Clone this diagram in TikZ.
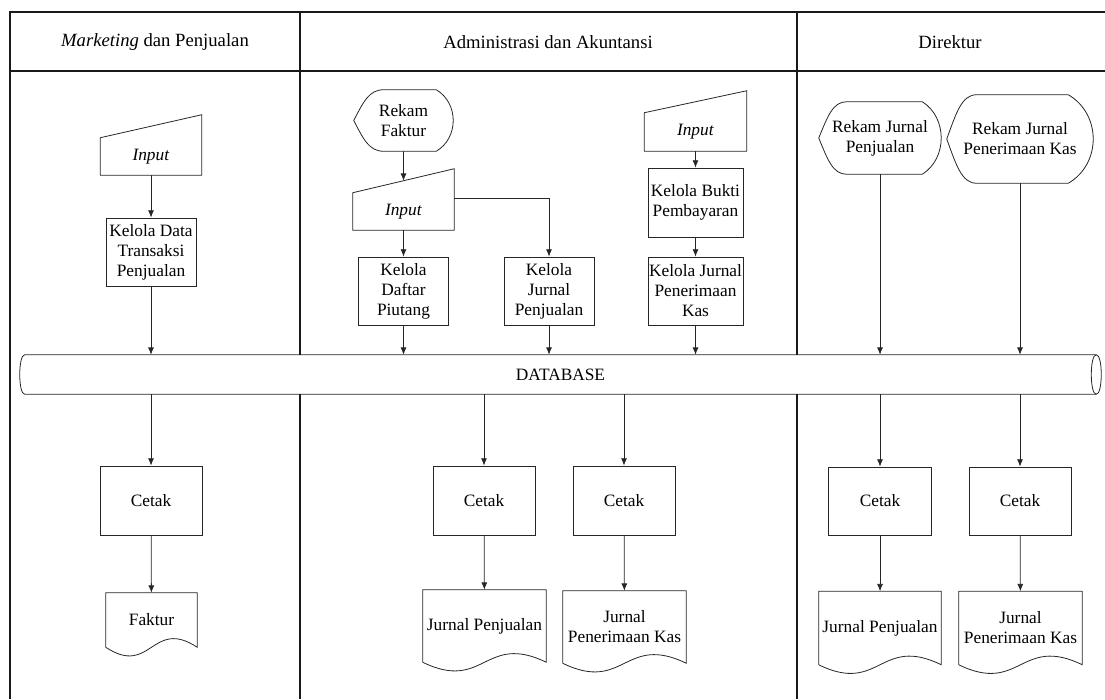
\documentclass[tikz,border=0pt]{standalone}
\usepackage{fontspec}
\setmainfont{Liberation Serif}
\usepackage{tikz}
\usetikzlibrary{arrows.meta, calc}

\tikzset{
  shape line/.style={draw=black!85, line width=0.6pt},
  txt/.style={rectangle, inner sep=0pt, align=center, font=\fontsize{13}{15}\selectfont},
  box/.style={txt, shape line},
  head/.style={inner sep=0pt, font=\fontsize{14}{16}\selectfont},
  flow/.style={draw=black!85, line width=0.6pt, -{Latex[length=5.5pt, width=4.5pt]}},
  lane/.style={draw=black!90, line width=0.9pt},
}

% manual input, #2 = rise of the top right corner (px)
\newcommand{\ManIn}[2]{%
  \coordinate (#1-ne) at ($ (#1.north east)+(0,-#2) $);
  \coordinate (#1-top) at ($ (#1.north west)!0.5!(#1-ne) $);
  \draw[shape line] (#1.south west) -- (#1.south east) -- (#1-ne) -- (#1.north west) -- cycle;
}

% display shape
\newcommand{\Disp}[4]{%
  \edef\dl{#2}% left cut, px
  \edef\dr{#3}% right bulge, px
  \edef\dh{#4}% height, px
  \draw[shape line] (#1.west) .. controls +(0.32*\dl,-0.3*\dh) and +(-0.5*\dl,0) .. ($ (#1.north west)+(\dl,0) $)
    -- ($ (#1.north east)+(-\dr,0) $) .. controls +(1.33*\dr,0.22*\dh) and +(1.33*\dr,-0.22*\dh) .. ($ (#1.south east)+(-\dr,0) $)
    -- ($ (#1.south west)+(\dl,0) $) .. controls +(-0.5*\dl,0) and +(0.32*\dl,0.3*\dh) .. (#1.west);
}

% document, #2 = depth of the wave (px)
\newcommand{\Doc}[2]{%
  \draw[shape line] (#1.south west) -- (#1.north west) -- (#1.north east) -- (#1.south east)
    .. controls ($ (#1.south)+(0,-#2) $) and ($ (#1.south)+(0,#2) $) .. (#1.south west);
}

% lying cylinder, #2 = width of the caps (px)
\newcommand{\Pipe}[2]{%
  \coordinate (#1-a) at ($ (#1.north west)+(#2,0) $);
  \coordinate (#1-b) at ($ (#1.north east)+(-#2,0) $);
  \coordinate (#1-c) at ($ (#1.south east)+(-#2,0) $);
  \coordinate (#1-d) at ($ (#1.south west)+(#2,0) $);
  \draw[shape line] (#1-a) -- (#1-b) .. controls +(1.33*#2,0) and +(1.33*#2,0) .. (#1-c)
    -- (#1-d) .. controls +(-1.33*#2,0) and +(-1.33*#2,0) .. (#1-a) -- cycle;
  \draw[shape line] (#1-b) .. controls +(-1.33*#2,0) and +(-1.33*#2,0) .. (#1-c);
}

\begin{document}
\begin{tikzpicture}[x=0.75pt, y=-0.75pt]

	\useasboundingbox (0,0) rectangle (1105,699);

	% database
	\node[txt, minimum width=810.75pt, minimum height=29.25pt] (db) at (560.5,374.5) {DATABASE};
	\Pipe{db}{5}

	% swimlanes
	\draw[lane] (10,699) -- (10,12) -- (1105,12);
	\draw[lane] (10,71) -- (1105,71);
	\draw[lane] (300,12) -- (300,12 |- db.north);
	\draw[lane] (300,12 |- db.south) -- (300,699);
	\draw[lane] (797,12) -- (797,12 |- db.north);
	\draw[lane] (797,12 |- db.south) -- (797,699);

	\node[head] (hm) at (155,42) {\textit{Marketing} dan Penjualan};
	\node[head] (ha) at (548,42) {Administrasi dan Akuntansi};
	\node[head] (hd) at (950,42) {Direktur};

	% marketing dan penjualan
	\node[txt, minimum width=75.75pt, minimum height=27.75pt] (in1) at (151,156.5) {\textit{Input}};
	\ManIn{in1}{23}
	\node[box, minimum width=67.5pt, minimum height=51pt] (kdt) at (151,252) {Kelola Data\\Transaksi\\Penjualan};
	\node[box, minimum width=76.5pt, minimum height=51.75pt] (c1) at (151,500.5) {Cetak};
	\node[txt, minimum width=68.25pt, minimum height=40.5pt] (d1) at (151.5,620) {Faktur};
	\Doc{d1}{30}

	\draw[flow] (in1) -- (kdt);
	\draw[flow] (kdt) -- (kdt |- db.north);
	\draw[flow] (c1 |- db.south) -- (c1);
	\draw[flow] (c1) -- (d1);

	% administrasi dan akuntansi
	\node[txt, minimum width=74.25pt, minimum height=45.75pt] (rf) at (403.5,120.5) {Rekam\\Faktur};
	\Disp{rf}{30}{17}{61}
	\node[txt, minimum width=75.75pt, minimum height=27.75pt] (in2) at (403.5,211.5) {\textit{Input}};
	\ManIn{in2}{24}
	\node[box, minimum width=67.5pt, minimum height=51pt] (kdp) at (403.5,291) {Kelola\\Daftar\\Piutang};
	\node[box, minimum width=67.5pt, minimum height=51pt] (kjp) at (549,291) {Kelola\\Jurnal\\Penjualan};

	\node[txt, minimum width=76.5pt, minimum height=28.5pt] (in3) at (695.5,132) {\textit{Input}};
	\ManIn{in3}{22}
	\node[box, minimum width=71.25pt, minimum height=51.75pt] (kbp) at (695.5,202.5) {Kelola Bukti\\Pembayaran};
	\node[box, minimum width=71.25pt, minimum height=51pt] (kjk) at (695.5,291) {Kelola Jurnal\\Penerimaan\\Kas};

	\node[box, minimum width=76.5pt, minimum height=51.75pt] (c2) at (484,500.5) {Cetak};
	\node[txt, minimum width=92.25pt, minimum height=54pt] (d2) at (484.5,626) {Jurnal Penjualan};
	\Doc{d2}{30}
	\node[box, minimum width=76.5pt, minimum height=51.75pt] (c3) at (624,500.5) {Cetak};
	\node[txt, minimum width=92.25pt, minimum height=54pt] (d3) at (624.5,627) {Jurnal\\Penerimaan Kas};
	\Doc{d3}{30}

	\draw[flow] (rf) -- (in2-top);
	\draw[flow] (in2) -- (kdp);
	\draw[flow] ($ (in2.east)+(0,-13) $) -| (kjp);
	\draw[flow] (kdp) -- (kdp |- db.north);
	\draw[flow] (kjp) -- (kjp |- db.north);
	\draw[flow] (in3) -- (kbp);
	\draw[flow] (kbp) -- (kjk);
	\draw[flow] (kjk) -- (kjk |- db.north);
	\draw[flow] (c2 |- db.south) -- (c2);
	\draw[flow] (c2) -- (d2);
	\draw[flow] (c3 |- db.south) -- (c3);
	\draw[flow] (c3) -- (d3);

	% direktur
	\node[txt, minimum width=91.5pt, minimum height=54pt] (rjp) at (880,138) {Rekam Jurnal\\Penjualan};
	\Disp{rjp}{28}{19}{72}
	\node[txt, minimum width=109.5pt, minimum height=66pt] (rjk) at (1020,139) {Rekam Jurnal\\Penerimaan Kas};
	\Disp{rjk}{30}{25}{88}

	\node[box, minimum width=77.25pt, minimum height=51pt] (c4) at (880,501) {Cetak};
	\node[txt, minimum width=91.5pt, minimum height=54.75pt] (d4) at (880,628) {Jurnal Penjualan};
	\Doc{d4}{30}
	\node[box, minimum width=76.5pt, minimum height=51pt] (c5) at (1020,501) {Cetak};
	\node[txt, minimum width=92.25pt, minimum height=54.75pt] (d5) at (1020.5,628) {Jurnal\\Penerimaan Kas};
	\Doc{d5}{30}

	\draw[flow] (rjp) -- (rjp |- db.north);
	\draw[flow] (rjk) -- (rjk |- db.north);
	\draw[flow] (c4 |- db.south) -- (c4);
	\draw[flow] (c4) -- (d4);
	\draw[flow] (c5 |- db.south) -- (c5);
	\draw[flow] (c5) -- (d5);

\end{tikzpicture}
\end{document}
